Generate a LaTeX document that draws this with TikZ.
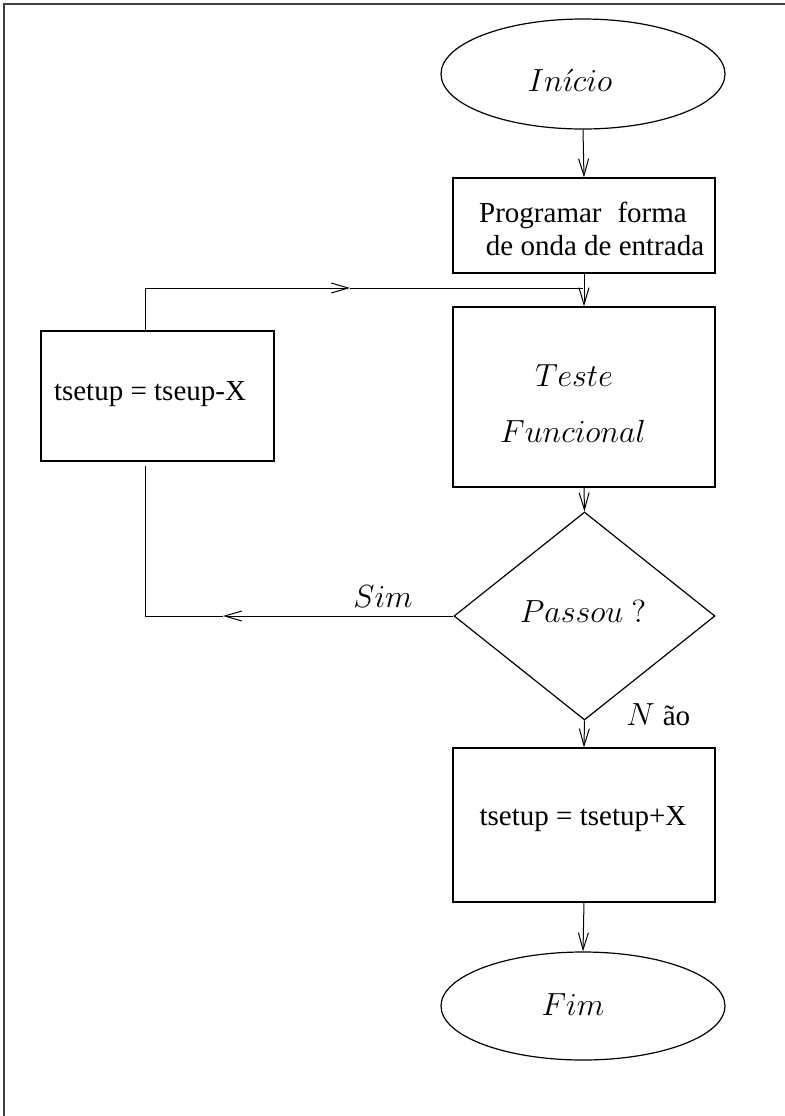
\RequirePackage{fix-cm}
\documentclass[tikz,border=0pt]{standalone}
\usepackage[no-math]{fontspec}
\setmainfont{Liberation Serif}
\usetikzlibrary{shapes.geometric,arrows.meta}

\begin{document}
\begin{tikzpicture}[x=0.5pt,y=-0.5pt,
  line width=0.5pt,
  box/.style={draw,rectangle,inner sep=0pt,line width=0.6pt},
  oval/.style={draw,ellipse,inner sep=0pt,line width=0.6pt},
  dia/.style={draw,diamond,inner sep=0pt,line width=0.6pt},
  rmtext/.style={font=\fontsize{14.5}{17}\selectfont,inner sep=0pt,anchor=base},
  ittext/.style={font=\fontsize{16}{19}\selectfont,inner sep=0pt,anchor=base},
  arr/.style={-{Straight Barb[length=8.5pt,width=5pt,line width=0.5pt]}},
]
\useasboundingbox (0,0) rectangle (785,1116);
% page frame (top and left edges)
\draw[line width=1pt,black!75] (4,1116) -- (4,4) -- (785,4);

% shapes of the flow
\node[oval,minimum width=142pt,minimum height=55pt] (ini) at (583,74) {};
\node[box,minimum width=131pt,minimum height=47.5pt] (prog) at (584,225.5) {};
\node[box,minimum width=131pt,minimum height=90pt] (test) at (584,397) {};
\node[dia,minimum width=130.5pt,minimum height=104pt] (pass) at (584.5,616) {};
\node[box,minimum width=131pt,minimum height=77pt] (inc) at (584,825) {};
\node[oval,minimum width=142pt,minimum height=54pt] (fim) at (583,1006) {};
\node[box,minimum width=116.5pt,minimum height=65pt] (dec) at (157.5,396) {};

% texts
\node[ittext] (tini) at (570,91) {$In\acute{\imath}cio$};
\node[rmtext] (tprogA) at (583,222) {Programar\hspace{0.55em}forma};
\node[rmtext] (tprogB) at (595,255) {de onda de entrada};
\node[ittext] (ttestA) at (574,386) {$Teste$};
\node[ittext] (ttestB) at (573,442) {$Funcional$};
\node[ittext] (tpass) at (583,622) {$Passou\ ?$};
\node[rmtext] (tinc) at (583,825) {tsetup = tsetup+X};
\node[ittext] (tfim) at (573,1015) {$Fim$};
\node[rmtext] (tdec) at (150,400) {tsetup = tseup-X};
\node[ittext] (lsim) at (383,607) {$Sim$};
\node[ittext] (lnao) at (640.5,725) {$N$};
\node[rmtext] (lnaob) at (676.5,725) {ão};

% main connectors
\draw[arr] (ini.south) -- (prog.north);
\draw[arr] (prog.south) -- (test.north);
\draw[arr] (test.south) -- (pass.north);
\draw[arr] (pass.south) -- (inc.north);
\draw[arr] (inc.south) -- (fim.north);

% loop back: decrement box to the test input
\coordinate (fbTurn) at (145,288);
\coordinate (fbTip) at (350,288);
\coordinate (fbJoin) at (583,288);
\draw[arr] (dec.north -| fbTurn) |- (fbTip);
\draw (fbTip) -- (fbJoin);

% "Sim" branch back towards the decrement box
\coordinate (simTip) at (223,0);
\coordinate (simEnd) at (145,466);
\draw[arr] (pass.west) -- (pass.west -| simTip);
\draw (pass.west -| simTip) -- (pass.west -| simEnd) -- (simEnd);
\end{tikzpicture}
\end{document}
